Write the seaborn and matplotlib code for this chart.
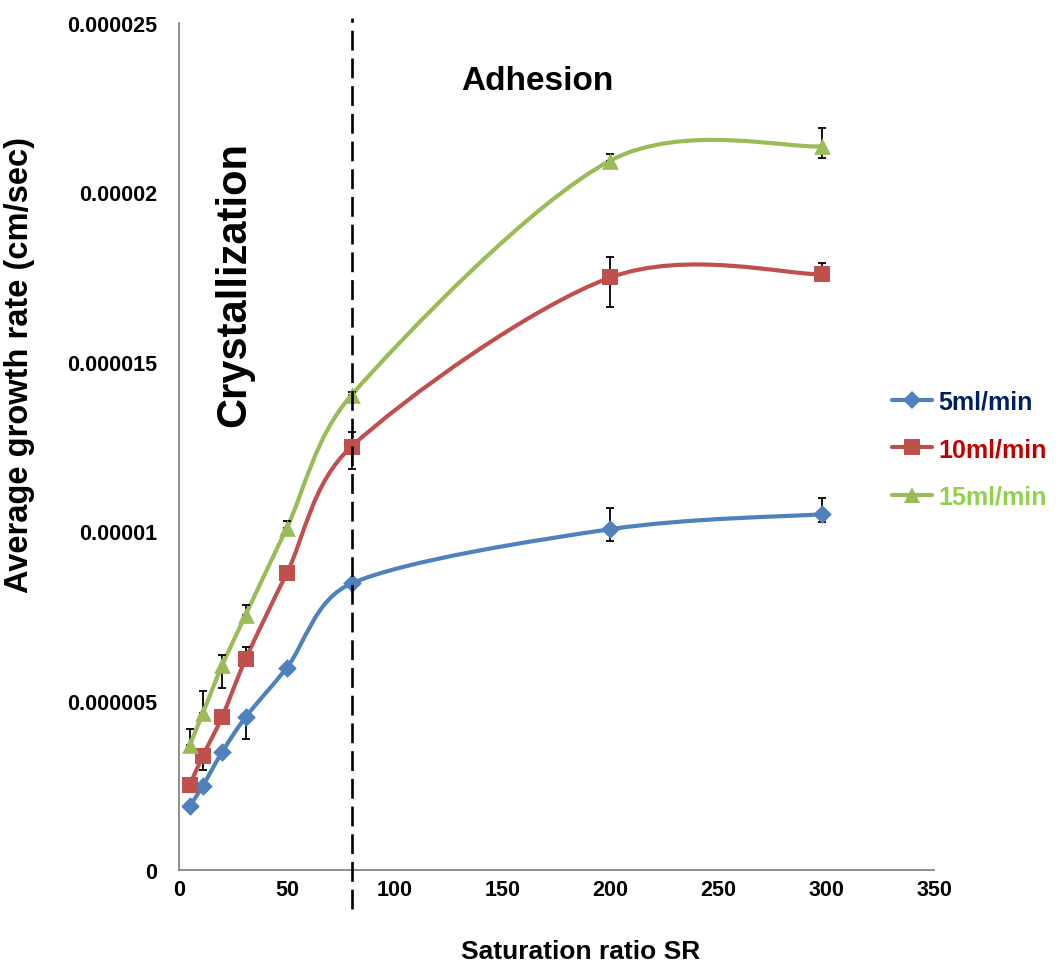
import numpy as np
import pandas as pd
import matplotlib
matplotlib.use("Agg")
import matplotlib.pyplot as plt
from matplotlib.path import Path
from matplotlib.patches import PathPatch
from matplotlib.lines import Line2D
import seaborn as sns

# Saturation ratio values shared by all flow rates
sr = [5, 11, 20, 31, 50, 80, 200, 298]

# Average growth rate (cm/sec) for each flow rate
rate_5 = [1.88e-6, 2.48e-6, 3.48e-6, 4.52e-6, 5.97e-6, 8.46e-6, 10.06e-6, 10.50e-6]
rate_10 = [2.51e-6, 3.36e-6, 4.52e-6, 6.24e-6, 8.76e-6, 12.50e-6, 17.49e-6, 17.58e-6]
rate_15 = [3.68e-6, 4.62e-6, 6.04e-6, 7.54e-6, 10.10e-6, 14.02e-6, 20.94e-6, 21.36e-6]

# Error bar extents (below, above) for each flow rate
err_lo_5 = [0, 0, 0, 0.66e-6, 0.12e-6, 0, 0.36e-6, 0.24e-6]
err_hi_5 = [0, 0, 0, 0, 0, 0, 0.63e-6, 0.47e-6]
err_lo_10 = [0, 0.40e-6, 0, 0, 0, 0.66e-6, 0.87e-6, 0]
err_hi_10 = [0, 0, 0, 0.35e-6, 0, 0.42e-6, 0.61e-6, 0.33e-6]
err_lo_15 = [0, 0, 0.68e-6, 0, 0, 0, 0, 0.35e-6]
err_hi_15 = [0.47e-6, 0.66e-6, 0.32e-6, 0.28e-6, 0.20e-6, 0.10e-6, 0.18e-6, 0.55e-6]

series_names = ["5ml/min", "10ml/min", "15ml/min"]
x_ticks = [0, 50, 100, 150, 200, 250, 300, 350]
y_ticks = [0, 5e-6, 10e-6, 15e-6, 20e-6, 25e-6]
y_tick_labels = ["0", "0.000005", "0.00001", "0.000015", "0.00002", "0.000025"]
boundary_sr = 80

line_colors = ["#4F81BD", "#C0504D", "#9BBB59"]
label_colors = ["#002060", "#C00000", "#92D050"]
marker_shapes = ["D", "s", "^"]
marker_sizes = [9.5, 11.0, 12.0]

sns.set_theme(style="white")
plt.rcParams["font.family"] = ["Liberation Sans", "DejaVu Sans"]
plt.rcParams["font.weight"] = "bold"
plt.rcParams["text.color"] = "black"
plt.rcParams["axes.labelcolor"] = "black"

df = pd.concat(
    [
        pd.DataFrame({"SR": sr, "rate": r, "flow": name})
        for r, name in zip([rate_5, rate_10, rate_15], series_names)
    ],
    ignore_index=True,
)

fig = plt.figure(figsize=(10.62, 9.70), dpi=100)
ax = fig.add_axes([179 / 1062, 1 - 871 / 970, (934 - 179) / 1062, (871 - 24) / 970])
ax.set_xlim(0, 350)
ax.set_ylim(0, 25e-6)


def smooth_path(xs, ys, cap=0.38):
    """Bezier curve through the points; tangents come from the neighbouring
    points and are limited relative to the segment length (screen space)."""
    data = np.column_stack([xs, ys]).astype(float)
    pts = ax.transData.transform(data)
    n = len(pts)
    verts = [pts[0]]
    codes = [Path.MOVETO]

    def handle(i, j):
        # control offset leaving point i towards neighbour j
        a = pts[i - 1] if i > 0 else pts[i]
        b = pts[i + 1] if i + 1 < n else pts[i]
        t = (b - a) / 6.0
        if j < i:
            t = -t
        seg = np.linalg.norm(pts[j] - pts[i])
        length = np.linalg.norm(t)
        if length > cap * seg and length > 0:
            t = t * (cap * seg / length)
        return t

    for i in range(n - 1):
        c1 = pts[i] + handle(i, i + 1)
        c2 = pts[i + 1] + handle(i + 1, i)
        verts += [c1, c2, pts[i + 1]]
        codes += [Path.CURVE4] * 3
    verts = ax.transData.inverted().transform(np.array(verts))
    return Path(verts, codes)


rates = [rate_5, rate_10, rate_15]
errs = [(err_lo_5, err_hi_5), (err_lo_10, err_hi_10), (err_lo_15, err_hi_15)]

for r, col, (lo, hi) in zip(rates, line_colors, errs):
    ax.add_patch(PathPatch(smooth_path(sr, r), facecolor="none", edgecolor=col,
                           lw=3.0, zorder=3, capstyle="round", joinstyle="round"))
    lo = np.array(lo)
    hi = np.array(hi)
    keep = (lo > 0) | (hi > 0)
    ax.errorbar(np.array(sr)[keep], np.array(r)[keep], yerr=[lo[keep], hi[keep]],
                fmt="none", ecolor="black", elinewidth=1.3, capsize=3.2,
                capthick=1.3, zorder=4)

for name, col, mk, ms in zip(series_names, line_colors, marker_shapes, marker_sizes):
    sub = df[df["flow"] == name]
    sns.scatterplot(data=sub, x="SR", y="rate", ax=ax, color=col, marker=mk,
                    s=ms ** 2, linewidth=0, zorder=5, legend=False)

# Boundary between the crystallization and adhesion regimes
ax.plot([boundary_sr, boundary_sr], [-1.15e-6, 25.15e-6], color="black", lw=1.9,
        dashes=(7.5, 3.0), clip_on=False, zorder=6)

ax.set_xlim(0, 350)
ax.set_ylim(0, 25e-6)
ax.set_xticks(x_ticks)
ax.set_xticklabels([str(v) for v in x_ticks])
ax.set_yticks(y_ticks)
ax.set_yticklabels(y_tick_labels)

for side in ["top", "right"]:
    ax.spines[side].set_visible(False)
for side in ["left", "bottom"]:
    ax.spines[side].set_color("#868686")
    ax.spines[side].set_linewidth(1.3)

ax.tick_params(axis="both", which="major", direction="out", length=5, width=1.2,
               color="#868686", labelsize=15.5, labelcolor="black")
ax.tick_params(axis="y", pad=11)
ax.tick_params(axis="x", pad=1.5)
for lab in ax.get_xticklabels() + ax.get_yticklabels():
    lab.set_fontweight("bold")

ax.set_xlabel("Saturation ratio SR", fontsize=19, fontweight="bold")
ax.xaxis.set_label_coords((581 - 179) / 755, -(940 - 871) / 847)
ax.xaxis.label.set_va("top")
ax.set_ylabel("Average growth rate (cm/sec)", fontsize=23.5, fontweight="bold")
ax.yaxis.set_label_coords((35 - 179) / 755, (871 - 365) / 847)

ax.text(25.5, 17.3e-6, "Crystallization", rotation=90, fontsize=30, fontweight="bold",
        ha="center", va="center", color="black")
ax.text(166, 23.3e-6, "Adhesion", fontsize=24, fontweight="bold",
        ha="center", va="center", color="black")

handles = [
    Line2D([0], [0], color=c, lw=3.0, marker=m, markersize=ms, markeredgewidth=0)
    for c, m, ms in zip(line_colors, marker_shapes, marker_sizes)
]
fig.legend(handles, series_names, loc="center left",
           bbox_to_anchor=(892 / 1062, 1 - 450 / 970), frameon=False,
           handlelength=1.6, handletextpad=0.25, labelspacing=0.95,
           borderpad=0, borderaxespad=0, labelcolor=label_colors,
           prop={"weight": "bold", "size": 18})

fig.savefig("out.png", dpi=100)
